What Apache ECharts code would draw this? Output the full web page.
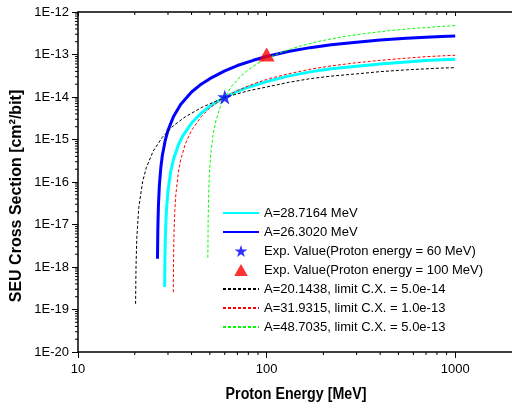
<!DOCTYPE html>
<html><head><meta charset="utf-8">
<script src="https://cdn.jsdelivr.net/npm/echarts@6/dist/echarts.min.js"></script>
<style>html,body{margin:0;padding:0;background:#fff}#c{width:512px;height:409px}</style>
</head><body><div id="c"></div>
<script>
// ---- data ----
const cyanE  = [28.8, 28.9, 29, 29.2, 29.5, 30, 31, 32, 34, 36, 40, 45, 50, 60, 70, 80, 100, 130, 170, 220, 300, 400, 550, 700, 850, 1000];
const cyanS  = [3.4e-19, 1.58e-18, 3.64e-18, 1.0e-17, 2.49e-17, 6.18e-17, 1.74e-16, 3.28e-16, 7.33e-16, 1.23e-15, 2.44e-15, 4.18e-15, 6.06e-15, 1.0e-14, 1.35e-14, 1.7e-14, 2.3e-14, 3.1e-14, 3.9e-14, 4.6e-14, 5.3e-14, 6.0e-14, 6.7e-14, 7.2e-14, 7.5e-14, 7.7e-14];
const blueE  = [26.39, 26.5, 26.7, 27, 27.5, 28, 29, 30, 32, 35, 40, 45, 50, 60, 70, 85, 100, 130, 170, 220, 300, 400, 550, 700, 850, 1000];
const blueS  = [1.56e-18, 7.51e-18, 2.86e-17, 8.24e-17, 2.23e-16, 4.19e-16, 9.52e-16, 1.64e-15, 3.37e-15, 6.63e-15, 1.31e-14, 2.0e-14, 2.7e-14, 4.1e-14, 5.5e-14, 7.3e-14, 9.0e-14, 1.18e-13, 1.45e-13, 1.7e-13, 1.95e-13, 2.2e-13, 2.42e-13, 2.56e-13, 2.65e-13, 2.72e-13];
const blackE = [20.2, 20.3, 20.5, 21, 22, 23, 25, 28, 32, 37, 45, 55, 65, 80, 100, 130, 170, 220, 300, 400, 550, 700, 850, 1000];
const blackS = [1.36e-19, 1.0e-18, 4.84e-18, 2.5e-17, 1.01e-16, 2.15e-16, 5.25e-16, 1.13e-15, 2.1e-15, 3.4e-15, 5.6e-15, 8.3e-15, 1.08e-14, 1.4e-14, 1.72e-14, 2.2e-14, 2.7e-14, 3.1e-14, 3.5e-14, 3.95e-14, 4.35e-14, 4.6e-14, 4.8e-14, 4.9e-14];
const redE   = [32.0, 32.1, 32.3, 32.6, 33, 34, 35, 37, 40, 45, 50, 60, 70, 85, 100, 130, 170, 220, 300, 400, 550, 700, 850, 1000];
const redS   = [2.56e-19, 1.48e-18, 6.66e-18, 2.05e-17, 4.92e-17, 1.63e-16, 3.27e-16, 7.69e-16, 1.64e-15, 3.45e-15, 5.52e-15, 1.0e-14, 1.42e-14, 2.02e-14, 2.6e-14, 3.5e-14, 4.5e-14, 5.4e-14, 6.4e-14, 7.3e-14, 8.2e-14, 8.9e-14, 9.3e-14, 9.6e-14];
const greenE = [48.8, 49, 49.3, 49.7, 50.5, 52, 54, 57, 60, 65, 72, 80, 90, 100, 120, 150, 190, 250, 330, 450, 600, 800, 1000];
const greenS = [1.66e-18, 1.47e-17, 5.57e-17, 1.46e-16, 4.33e-16, 1.28e-15, 2.91e-15, 6.11e-15, 1.0e-14, 1.75e-14, 2.93e-14, 4.38e-14, 6.2e-14, 8.0e-14, 1.13e-13, 1.57e-13, 2.05e-13, 2.6e-13, 3.1e-13, 3.65e-13, 4.1e-13, 4.5e-13, 4.8e-13];
const exp60E  = [60];  const exp60S  = [1e-14];
const exp100E = [100]; const exp100S = [1e-13];
const names = [
  'A=28.7164 MeV',
  'A=26.3020 MeV',
  'Exp. Value(Proton energy = 60 MeV)',
  'Exp. Value(Proton energy = 100 MeV)',
  'A=20.1438, limit C.X. = 5.0e-14',
  'A=31.9315, limit C.X. = 1.0e-13',
  'A=48.7035, limit C.X. = 5.0e-13'
];
const xTickLabels = ['10', '100', '1000'];
const yTickLabels = ['1E-20','1E-19','1E-18','1E-17','1E-16','1E-15','1E-14','1E-13','1E-12'];
const xTitle = 'Proton Energy [MeV]';
const yTitle = 'SEU Cross Section [cm\u00B2/bit]';

// minor tick positions (2..9 x each decade)
const xMinor = [], yMinor = [];
for (let d = 1; d <= 2; d++) for (let m = 2; m <= 9; m++) xMinor.push(m * Math.pow(10, d));
for (let d = -20; d <= -13; d++) for (let m = 2; m <= 9; m++) yMinor.push(m * Math.pow(10, d));

// ---- chart ----
const FONT = 'Arial, "Liberation Sans", sans-serif';
const STAR = 'path://M50,0 L61.8,36.2 L100,36.2 L69.1,58.8 L80.9,95.1 L50,72.7 L19.1,95.1 L30.9,58.8 L0,36.2 L38.2,36.2 Z';
const TRI = 'path://M50,0 L100,88 L0,88 Z';
const pair = (xs, ys) => xs.map((x, i) => [x, ys[i]]);
const dash = [3, 2];
const X0 = 10, X1 = 2000, Y0 = 1e-20, Y1 = 1e-12;

function tickSeries(kind, values, len) {
  // kind: 'xb' bottom outward, 'xt' top inward, 'yl' left outward
  const data = values.map(v => kind === 'yl' ? [X0, v] : [v, kind === 'xb' ? Y0 : Y1]);
  return {
    type: 'custom', silent: true, clip: false, z: 10, xAxisIndex: 0, yAxisIndex: 0,
    data: data,
    renderItem: (params, api) => {
      const p = api.coord([api.value(0), api.value(1)]);
      let s;
      if (kind === 'xb') s = {x1: p[0], y1: p[1], x2: p[0], y2: p[1] + len};
      else if (kind === 'xt') s = {x1: p[0], y1: p[1], x2: p[0], y2: p[1] + len};
      else s = {x1: p[0] - len, y1: p[1], x2: p[0], y2: p[1]};
      return {type: 'line', shape: s, style: {stroke: '#000', lineWidth: 1}};
    }
  };
}

const chart = echarts.init(document.getElementById('c'), null, {renderer: 'canvas'});
const hiddenIcon = {color: 'rgba(0,0,0,0)', borderColor: 'rgba(0,0,0,0)', borderWidth: 0, opacity: 0};
chart.setOption({
  animation: false,
  backgroundColor: '#fff',
  textStyle: {fontFamily: FONT},
  grid: {left: 78, right: -2, top: 12, bottom: 57, containLabel: false},
  xAxis: [
    {
      type: 'log', logBase: 10, position: 'bottom', min: X0, max: X1, interval: 1,
      axisLine: {show: true, lineStyle: {color: '#000', width: 1.5}},
      splitLine: {show: false},
      axisTick: {show: true, inside: false, length: 6, lineStyle: {color: '#000'}},
      axisLabel: {
        show: true, margin: 11, color: '#000', fontSize: 13, fontFamily: FONT,
        showMaxLabel: false,
        formatter: v => { const i = Math.round(Math.log10(v)) - 1; return xTickLabels[i] !== undefined ? xTickLabels[i] : ''; }
      }
    },
    {
      type: 'log', logBase: 10, position: 'top', min: X0, max: X1, interval: 1,
      axisLine: {show: true, lineStyle: {color: '#000', width: 1.5}},
      splitLine: {show: false},
      axisTick: {show: true, inside: true, length: 4, lineStyle: {color: '#000'}},
      axisLabel: {show: false}
    }
  ],
  yAxis: {
    type: 'log', logBase: 10, min: Y0, max: Y1, interval: 1,
    axisLine: {show: true, lineStyle: {color: '#000', width: 1.5}},
    splitLine: {show: false},
    axisTick: {show: true, inside: false, length: 6, lineStyle: {color: '#000'}},
    axisLabel: {
      margin: 9, color: '#000', fontSize: 13, fontFamily: FONT,
      formatter: v => { const i = Math.round(Math.log10(v)) + 20; return yTickLabels[i] !== undefined ? yTickLabels[i] : ''; }
    }
  },
  legend: {
    orient: 'vertical', left: 222, top: 205, padding: 0,
    itemWidth: 36, itemHeight: 12, itemGap: 3,
    textStyle: {fontSize: 13, color: '#000', fontFamily: FONT, lineHeight: 16},
    data: [
      {name: names[0], itemStyle: hiddenIcon},
      {name: names[1], itemStyle: hiddenIcon},
      {name: names[2], icon: STAR, itemStyle: {color: '#0000ff'}},
      {name: names[3], icon: TRI, itemStyle: {color: '#ff0000'}},
      {name: names[4], itemStyle: hiddenIcon},
      {name: names[5], itemStyle: hiddenIcon},
      {name: names[6], itemStyle: hiddenIcon}
    ]
  },
  graphic: [
    {type: 'text', x: 17, y: 196, rotation: Math.PI / 2,
     style: {text: yTitle, font: 'bold 16px ' + FONT, fill: '#000', textAlign: 'center', textVerticalAlign: 'middle'}},
    {type: 'text', x: 296, y: 395, scaleX: 0.89,
     style: {text: xTitle, font: 'bold 16px ' + FONT, fill: '#000', textAlign: 'center', textVerticalAlign: 'middle'}}
  ],
  series: [
    {name: names[0], type: 'line', data: pair(cyanE, cyanS), symbol: 'none', z: 2,
     lineStyle: {color: '#00ffff', width: 3}, itemStyle: {color: '#00ffff'}},
    {name: names[1], type: 'line', data: pair(blueE, blueS), symbol: 'none', z: 2,
     lineStyle: {color: '#0000ff', width: 3}, itemStyle: {color: '#0000ff'}},
    {name: names[4], type: 'line', data: pair(blackE, blackS), symbol: 'none', z: 3,
     lineStyle: {color: '#000000', width: 1, type: dash}, itemStyle: {color: '#000000'}},
    {name: names[5], type: 'line', data: pair(redE, redS), symbol: 'none', z: 3,
     lineStyle: {color: '#ff0000', width: 1, type: dash}, itemStyle: {color: '#ff0000'}},
    {name: names[6], type: 'line', data: pair(greenE, greenS), symbol: 'none', z: 3,
     lineStyle: {color: '#00ff00', width: 1, type: dash}, itemStyle: {color: '#00ff00'}},
    {name: names[2], type: 'scatter', data: pair(exp60E, exp60S), symbol: STAR, symbolSize: 15, z: 5,
     itemStyle: {color: '#0000ff'}},
    {name: names[3], type: 'scatter', data: pair(exp100E, exp100S), symbol: TRI, symbolSize: [16, 14], z: 5,
     itemStyle: {color: '#ff0000'}},
    tickSeries('xb', xMinor, 3),
    tickSeries('xt', xMinor, 3),
    tickSeries('yl', yMinor, 3)
  ]
});
</script></body></html>
